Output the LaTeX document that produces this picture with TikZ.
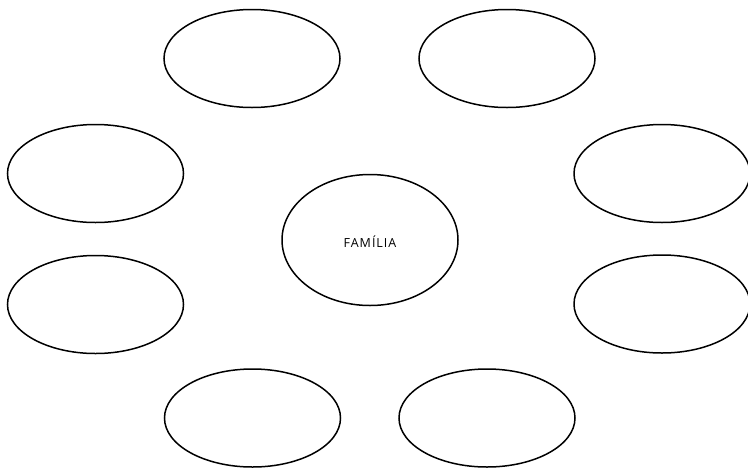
\documentclass[tikz,border=0pt]{standalone}
\usepackage{fontspec}
\setsansfont{Open Sans}
\usetikzlibrary{shapes.geometric}
\definecolor{Ink}{HTML}{000000}
\tikzset{
  bubble/.style={
    ellipse, draw=Ink, line width=1.5pt, inner sep=0pt,
    minimum width=176pt, minimum height=98pt
  },
  core/.style={
    bubble, minimum height=131pt, text height=14pt, text depth=0pt,
    font=\sffamily\fontsize{12.5}{13}\selectfont\addfontfeatures{LetterSpace=8}
  }
}

\begin{document}
\begin{tikzpicture}[x=1pt,y=-1pt]
    \useasboundingbox (0,0) rectangle (748,467);
    \node[core] (fam) at (370,240) {FAMÍLIA};
    \node[bubble] (topl) at (252,58.5) {};
    \node[bubble] (topr) at (507,58.5) {};
    \node[bubble] (midl) at (95.5,173.5) {};
    \node[bubble] (midr) at (662,173.5) {};
    \node[bubble] (lowl) at (95.5,304.5) {};
    \node[bubble] (lowr) at (662,304) {};
    \node[bubble] (botl) at (252.5,418) {};
    \node[bubble] (botr) at (487,418) {};
  \end{tikzpicture}
\end{document}
